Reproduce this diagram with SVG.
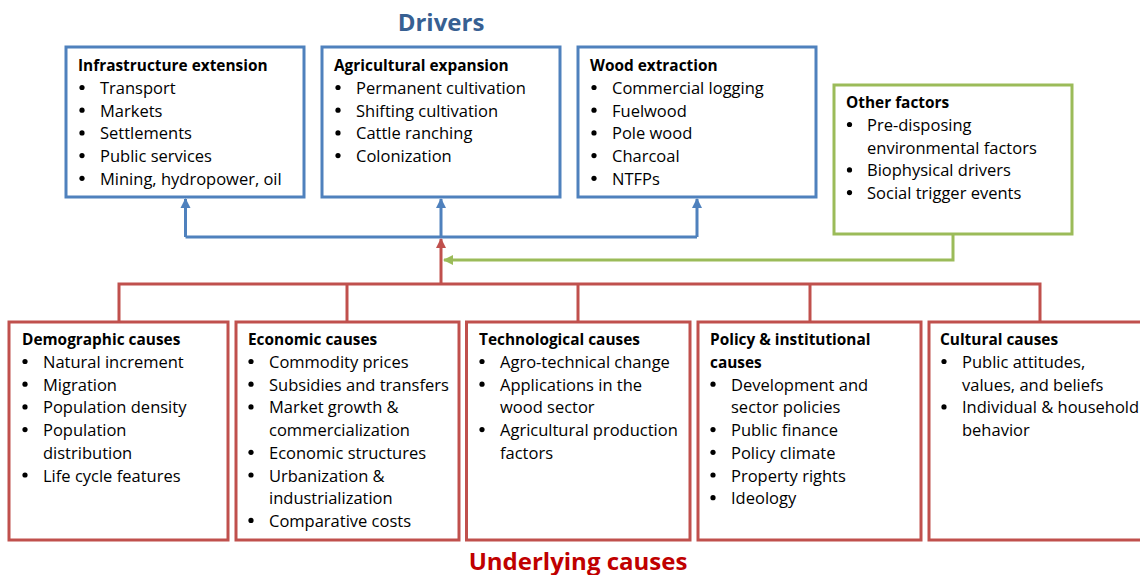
<svg xmlns="http://www.w3.org/2000/svg" width="1140" height="575" viewBox="0 0 1140 575">
  <style>
    text { font-family: "Open Sans", "Liberation Sans", sans-serif; fill: #000; }
    .t { font-size: 16.5px; }
    .h { font-size: 15.4px; font-weight: bold; }
    .title { font-size: 24px; font-weight: bold; text-anchor: middle; }
    .box { fill: #fff; stroke-width: 3; }
    .blue { stroke: #4F81BD; }
    .red { stroke: #C0504D; }
    .green { stroke: #9BBB59; }
    .line { fill: none; stroke-width: 3; }
    circle { fill: #000; }
  </style>
  <defs>
    <marker id="ab" viewBox="0 0 10 10" refX="9" refY="5" markerWidth="3.4" markerHeight="3.4" orient="auto" markerUnits="strokeWidth">
      <path d="M0,0 L10,5 L0,10 z" fill="#4F81BD"/>
    </marker>
    <marker id="ar" viewBox="0 0 10 10" refX="9" refY="5" markerWidth="3.4" markerHeight="3.4" orient="auto" markerUnits="strokeWidth">
      <path d="M0,0 L10,5 L0,10 z" fill="#C0504D"/>
    </marker>
    <marker id="ag" viewBox="0 0 10 10" refX="9" refY="5" markerWidth="3.4" markerHeight="3.4" orient="auto" markerUnits="strokeWidth">
      <path d="M0,0 L10,5 L0,10 z" fill="#9BBB59"/>
    </marker>
  </defs>

  <text class="title" x="441" y="31" style="fill:#376092">Drivers</text>
  <text class="title" x="578" y="570" style="fill:#C00000">Underlying causes</text>

  <g id="connectors">
    <!-- drivers feed line -->
    <path class="line blue" d="M185.5,237 H697"/>
    <path class="line blue" d="M185.5,237 V199" marker-end="url(#ab)"/>
    <path class="line blue" d="M441,237 V199" marker-end="url(#ab)"/>
    <path class="line blue" d="M697,237 V199" marker-end="url(#ab)"/>
    <!-- other factors -->
    <path class="line green" d="M953,235 V260 H444" marker-end="url(#ag)"/>
    <!-- underlying causes bus -->
    <path class="line red" d="M441,284 V239" marker-end="url(#ar)"/>
    <path class="line red" d="M119,322 V284 H1040 V322"/>
    <path class="line red" d="M347,284 V322"/>
    <path class="line red" d="M578,284 V322"/>
    <path class="line red" d="M810,284 V322"/>
  </g>

  <g id="infrastructure">
    <rect class="box blue" x="66" y="47" width="238" height="150"/>
    <text class="h" x="78" y="71">Infrastructure extension</text>
    <g class="t">
      <circle cx="82" cy="87.5" r="2.6"/><text x="100" y="94">Transport</text>
      <circle cx="82" cy="110.2" r="2.6"/><text x="100" y="116.7">Markets</text>
      <circle cx="82" cy="132.9" r="2.6"/><text x="100" y="139.4">Settlements</text>
      <circle cx="82" cy="155.6" r="2.6"/><text x="100" y="162.1">Public services</text>
      <circle cx="82" cy="178.3" r="2.6"/><text x="100" y="184.8">Mining, hydropower, oil</text>
    </g>
  </g>

  <g id="agricultural">
    <rect class="box blue" x="322" y="47" width="238" height="150"/>
    <text class="h" x="334" y="71">Agricultural expansion</text>
    <g class="t">
      <circle cx="338" cy="87.5" r="2.6"/><text x="356" y="94">Permanent cultivation</text>
      <circle cx="338" cy="110.2" r="2.6"/><text x="356" y="116.7">Shifting cultivation</text>
      <circle cx="338" cy="132.9" r="2.6"/><text x="356" y="139.4">Cattle ranching</text>
      <circle cx="338" cy="155.6" r="2.6"/><text x="356" y="162.1">Colonization</text>
    </g>
  </g>

  <g id="wood">
    <rect class="box blue" x="578" y="47" width="238" height="150"/>
    <text class="h" x="590" y="71">Wood extraction</text>
    <g class="t">
      <circle cx="594" cy="87.5" r="2.6"/><text x="612" y="94">Commercial logging</text>
      <circle cx="594" cy="110.2" r="2.6"/><text x="612" y="116.7">Fuelwood</text>
      <circle cx="594" cy="132.9" r="2.6"/><text x="612" y="139.4">Pole wood</text>
      <circle cx="594" cy="155.6" r="2.6"/><text x="612" y="162.1">Charcoal</text>
      <circle cx="594" cy="178.3" r="2.6"/><text x="612" y="184.8">NTFPs</text>
    </g>
  </g>

  <g id="other">
    <rect class="box green" x="834" y="85" width="238" height="149"/>
    <text class="h" x="846" y="108">Other factors</text>
    <g class="t">
      <circle cx="849.5" cy="124.5" r="2.6"/><text x="867" y="131">Pre-disposing</text>
      <text x="867" y="153.7">environmental factors</text>
      <circle cx="849.5" cy="169.9" r="2.6"/><text x="867" y="176.4">Biophysical drivers</text>
      <circle cx="849.5" cy="192.6" r="2.6"/><text x="867" y="199.1">Social trigger events</text>
    </g>
  </g>

  <g id="demographic">
    <rect class="box red" x="9" y="322" width="219" height="218"/>
    <text class="h" x="22" y="345">Demographic causes</text>
    <g class="t">
      <circle cx="25" cy="361.5" r="2.6"/><text x="43" y="368">Natural increment</text>
      <circle cx="25" cy="384.2" r="2.6"/><text x="43" y="390.7">Migration</text>
      <circle cx="25" cy="406.9" r="2.6"/><text x="43" y="413.4">Population density</text>
      <circle cx="25" cy="429.6" r="2.6"/><text x="43" y="436.1">Population</text>
      <text x="43" y="458.8">distribution</text>
      <circle cx="25" cy="475" r="2.6"/><text x="43" y="481.5">Life cycle features</text>
    </g>
  </g>

  <g id="economic">
    <rect class="box red" x="236" y="322" width="223" height="218"/>
    <text class="h" x="248" y="345">Economic causes</text>
    <g class="t">
      <circle cx="251" cy="361.5" r="2.6"/><text x="269" y="368">Commodity prices</text>
      <circle cx="251" cy="384.2" r="2.6"/><text x="269" y="390.7">Subsidies and transfers</text>
      <circle cx="251" cy="406.9" r="2.6"/><text x="269" y="413.4">Market growth &amp;</text>
      <text x="269" y="436.1">commercialization</text>
      <circle cx="251" cy="452.3" r="2.6"/><text x="269" y="458.8">Economic structures</text>
      <circle cx="251" cy="475" r="2.6"/><text x="269" y="481.5">Urbanization &amp;</text>
      <text x="269" y="504.2">industrialization</text>
      <circle cx="251" cy="520.4" r="2.6"/><text x="269" y="526.9">Comparative costs</text>
    </g>
  </g>

  <g id="technological">
    <rect class="box red" x="466.5" y="322" width="223.5" height="218"/>
    <text class="h" x="479" y="345">Technological causes</text>
    <g class="t">
      <circle cx="482" cy="361.5" r="2.6"/><text x="500" y="368">Agro-technical change</text>
      <circle cx="482" cy="384.2" r="2.6"/><text x="500" y="390.7">Applications in the</text>
      <text x="500" y="413.4">wood sector</text>
      <circle cx="482" cy="429.6" r="2.6"/><text x="500" y="436.1">Agricultural production</text>
      <text x="500" y="458.8">factors</text>
    </g>
  </g>

  <g id="policy">
    <rect class="box red" x="698" y="322" width="223" height="218"/>
    <text class="h" x="710" y="345">Policy &amp; institutional</text>
    <text class="h" x="710" y="367.7">causes</text>
    <g class="t">
      <circle cx="713" cy="384.2" r="2.6"/><text x="731" y="390.7">Development and</text>
      <text x="731" y="413.4">sector policies</text>
      <circle cx="713" cy="429.6" r="2.6"/><text x="731" y="436.1">Public finance</text>
      <circle cx="713" cy="452.3" r="2.6"/><text x="731" y="458.8">Policy climate</text>
      <circle cx="713" cy="475" r="2.6"/><text x="731" y="481.5">Property rights</text>
      <circle cx="713" cy="497.7" r="2.6"/><text x="731" y="504.2">Ideology</text>
    </g>
  </g>

  <g id="cultural">
    <rect class="box red" x="929" y="322" width="222" height="218"/>
    <text class="h" x="940" y="345">Cultural causes</text>
    <g class="t">
      <circle cx="944" cy="361.5" r="2.6"/><text x="962" y="368">Public attitudes,</text>
      <text x="962" y="390.7">values, and beliefs</text>
      <circle cx="944" cy="406.9" r="2.6"/><text x="962" y="413.4">Individual &amp; household</text>
      <text x="962" y="436.1">behavior</text>
    </g>
  </g>
</svg>
